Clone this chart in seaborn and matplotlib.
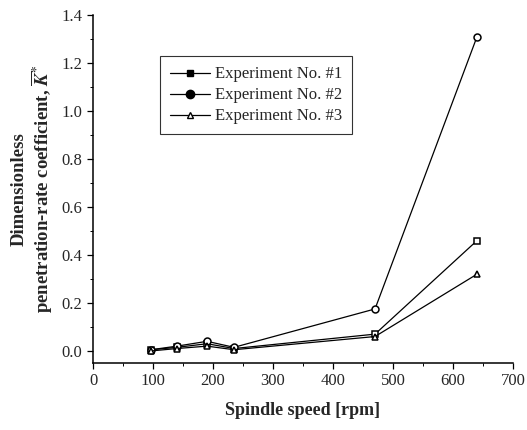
import pandas as pd
import matplotlib.pyplot as plt
import seaborn as sns
from matplotlib.lines import Line2D
from matplotlib.ticker import MultipleLocator

# spindle speed [rpm] and measured coefficients
speed = [97, 140, 190, 235, 470, 640]
exp1 = [0.005, 0.015, 0.03, 0.01, 0.07, 0.46]
exp2 = [0.005, 0.02, 0.04, 0.015, 0.175, 1.31]
exp3 = [0.0, 0.01, 0.02, 0.005, 0.06, 0.32]
names = ["Experiment No. #1", "Experiment No. #2", "Experiment No. #3"]

df = pd.DataFrame({"speed": speed * 3,
                   "K": exp1 + exp2 + exp3,
                   "exp": [n for n in names for _ in speed]})

sns.set_style("ticks")
plt.rcParams['font.family'] = ['Liberation Serif', 'DejaVu Serif']
plt.rcParams['mathtext.fontset'] = 'stix'

fig = plt.figure(figsize=(5.27, 4.3), dpi=100)
ax = fig.add_axes([0.1765, 0.156, 0.797, 0.809])

markers = {names[0]: "s", names[1]: "o", names[2]: "^"}
sns.lineplot(data=df, x="speed", y="K", hue="exp", style="exp",
             markers=markers, dashes=False, palette=["black"] * 3,
             linewidth=0.9, markersize=5, markerfacecolor="white",
             markeredgecolor="black", markeredgewidth=1.1,
             legend=False, ax=ax)

ax.set_xlim(0, 700)
ax.set_ylim(-0.05, 1.4)
ax.xaxis.set_major_locator(MultipleLocator(100))
ax.xaxis.set_minor_locator(MultipleLocator(50))
ax.yaxis.set_minor_locator(MultipleLocator(0.1))
ax.set_yticks([0, 0.2, 0.4, 0.6, 0.8, 1.0, 1.2, 1.4])
ax.set_yticklabels(["0.0", "0.2", "0.4", "0.6", "0.8", "1.0", "1.2", "1.4"])
ax.tick_params(which="major", length=4, width=0.9, labelsize=12, color="black")
ax.tick_params(which="minor", length=2, width=0.7, color="black")
for s in ["left", "bottom"]:
    ax.spines[s].set_linewidth(1.1)
    ax.spines[s].set_color("black")
sns.despine(ax=ax)

ax.set_xlabel("Spindle speed [rpm]", fontsize=13, fontweight="bold", labelpad=9)
ax.set_ylabel("Dimensionless\npenetration-rate coefficient, $\\overline{\\boldsymbol{K}}^{\\mathbf{*}}$",
              fontsize=13.5, fontweight="bold", labelpad=5, linespacing=1.05)

handles = [
    Line2D([], [], color="black", lw=0.9, marker="s", markersize=5,
           markerfacecolor="black", markeredgecolor="black"),
    Line2D([], [], color="black", lw=0.9, marker="o", markersize=6,
           markerfacecolor="black", markeredgecolor="black"),
    Line2D([], [], color="black", lw=0.9, marker="^", markersize=5,
           markerfacecolor="white", markeredgecolor="black"),
]
leg = ax.legend(handles, names, loc="upper left", bbox_to_anchor=(0.14, 0.905),
                fontsize=12, frameon=True, fancybox=False, edgecolor="black",
                handlelength=2.4, borderpad=0.6, labelspacing=0.3, handletextpad=0.3)
leg.get_frame().set_linewidth(0.8)

fig.savefig("out.png", dpi=100)
